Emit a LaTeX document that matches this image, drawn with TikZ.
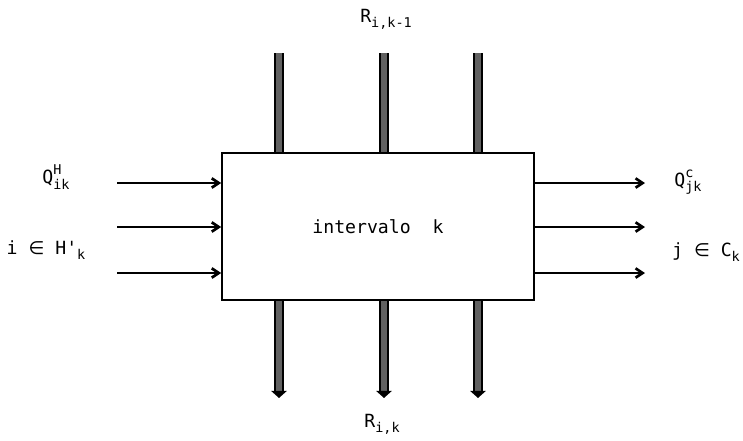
\documentclass[tikz,border=0pt]{standalone}
\usepackage{fontspec}
\setmainfont{DejaVu Sans Mono}
\newfontfamily\symfont{DejaVu Sans}
\usetikzlibrary{arrows.meta, positioning}

\newcommand{\lsup}[1]{\raisebox{8pt}{\fontsize{11.5}{12}\selectfont #1}}
\newcommand{\lsub}[1]{\raisebox{-4.5pt}{\fontsize{11.5}{12}\selectfont #1}}
\newcommand{\isin}{{\symfont ∈}}

\begin{document}
\begin{tikzpicture}[x=0.03cm, y=-0.03cm,
  every node/.style={font=\fontsize{15.5}{18}\selectfont},
  box/.style={draw, line width=1.4pt, minimum width=9.36cm, minimum height=4.41cm, inner sep=0pt},
  flow/.style={line width=2.3pt, -{Straight Barb[length=6pt, width=8pt]}},
  band/.style={draw=black, line width=1.5pt, double=black!62, double distance=5.5pt},
  bandout/.style={band, -{Triangle[length=6pt, width=13pt]}}
]
  \useasboundingbox (0,0) rectangle (743,441);

  \node[box] (intv) at (378,226.5) {intervalo~~k};

  % heat from the interval above
  \node (rin) at (386,19) {R\lsub{i,k-1}};
  \coordinate (rin1) at (279,53);
  \coordinate (rin2) at (384,53);
  \coordinate (rin3) at (478,53);
  \draw[band] (rin1) -- (rin1 |- intv.north);
  \draw[band] (rin2) -- (rin2 |- intv.north);
  \draw[band] (rin3) -- (rin3 |- intv.north);

  % heat to the interval below
  \node (rout) at (382,424) {R\lsub{i,k}};
  \coordinate (rout1) at (279,398);
  \coordinate (rout2) at (384,398);
  \coordinate (rout3) at (478,398);
  \draw[bandout] (rout1 |- intv.south) -- (rout1);
  \draw[bandout] (rout2 |- intv.south) -- (rout2);
  \draw[bandout] (rout3 |- intv.south) -- (rout3);

  % hot streams
  \node (qh) at (56,177) {Q\rlap{\lsup{H}}\lsub{ik}};
  \node (hset) at (46,250) {i~\isin~H\textquotesingle\lsub{k}};
  \coordinate (qin1) at (117,183);
  \coordinate (qin2) at (117,227);
  \coordinate (qin3) at (117,273);
  \draw[flow] (qin1) -- (qin1 -| intv.west);
  \draw[flow] (qin2) -- (qin2 -| intv.west);
  \draw[flow] (qin3) -- (qin3 -| intv.west);

  % cold streams
  \node (qc) at (688,182) {Q\rlap{\lsup{c}}\lsub{jk}};
  \node (cset) at (706,252) {j~\isin~C\lsub{k}};
  \coordinate (qout1) at (645,183);
  \coordinate (qout2) at (645,227);
  \coordinate (qout3) at (645,273);
  \draw[flow] (qout1 -| intv.east) -- (qout1);
  \draw[flow] (qout2 -| intv.east) -- (qout2);
  \draw[flow] (qout3 -| intv.east) -- (qout3);
\end{tikzpicture}
\end{document}
